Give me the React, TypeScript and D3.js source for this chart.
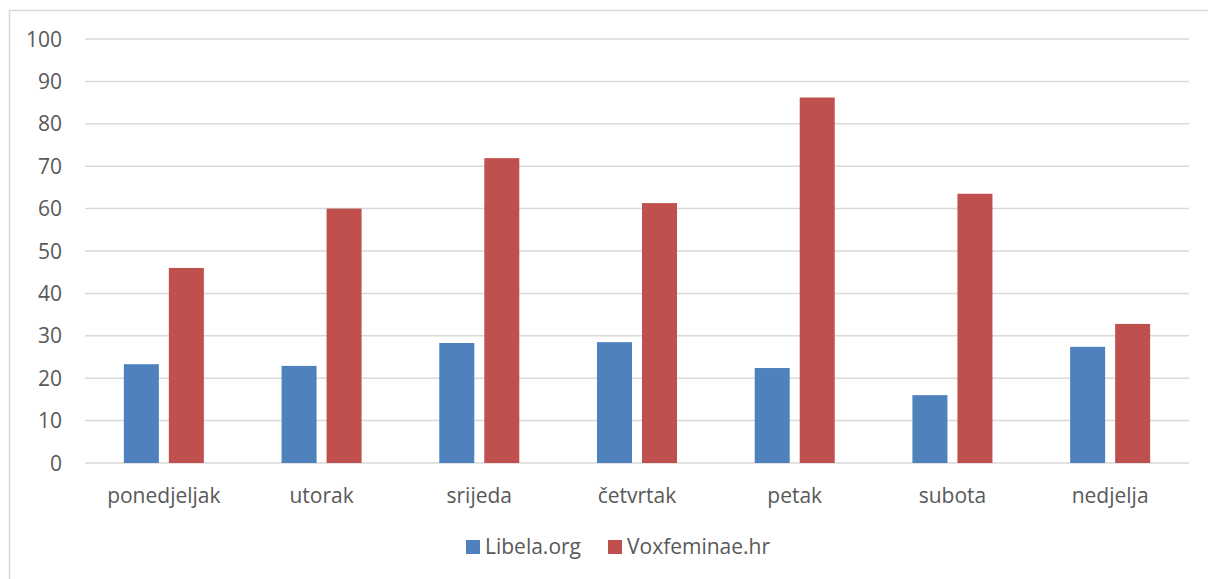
import * as d3 from 'd3';
import { useEffect, useRef } from 'react';

// days of the week (Croatian)
const days = ['ponedjeljak', 'utorak', 'srijeda', 'četvrtak', 'petak', 'subota', 'nedjelja'];
const seriesNames = ['Libela.org', 'Voxfeminae.hr'];
const libela = [23.3, 22.9, 28.3, 28.5, 22.4, 16.0, 27.4];
const voxfeminae = [46.0, 60.0, 71.9, 61.3, 86.2, 63.5, 32.8];
const yTicks = [0, 10, 20, 30, 40, 50, 60, 70, 80, 90, 100];
const colors = ['#4F81BD', '#C0504D'];

const App = () => {
  const ref = useRef<SVGSVGElement>(null);

  useEffect(() => {
    const svg = d3.select(ref.current);
    svg.selectAll('*').remove();

    const width = 1208, height = 579;
    const font = "'Open Sans', sans-serif";
    const textColor = '#595959';

    svg.attr('width', width).attr('height', height);

    // chart frame (runs off the right and bottom edge in the original)
    svg.append('rect')
      .attr('x', 9.5).attr('y', 10.5)
      .attr('width', width + 20).attr('height', height + 20)
      .attr('fill', 'white')
      .attr('stroke', '#d9d9d9')
      .attr('stroke-width', 1.5);

    const x0 = d3.scaleBand<string>().domain(days).range([85, 1189]);
    const y = d3.scaleLinear().domain([0, 100]).range([463, 39]);
    const barW = x0.bandwidth() * 0.222;
    const gap = 10;

    // gridlines
    svg.append('g')
      .selectAll('line')
      .data(yTicks)
      .enter()
      .append('line')
      .attr('x1', 85).attr('x2', 1189)
      .attr('y1', d => y(d)).attr('y2', d => y(d))
      .attr('stroke', '#d9d9d9')
      .attr('stroke-width', 1.5);

    // y tick labels
    svg.append('g')
      .selectAll('text')
      .data(yTicks)
      .enter()
      .append('text')
      .attr('x', 62)
      .attr('y', d => y(d))
      .attr('dy', '0.36em')
      .attr('text-anchor', 'end')
      .style('font-family', font)
      .style('font-size', '21px')
      .attr('fill', textColor)
      .text(d => d);

    // bars
    const series = [libela, voxfeminae];
    series.forEach((vals, si) => {
      svg.append('g')
        .selectAll('rect')
        .data(vals)
        .enter()
        .append('rect')
        .attr('x', (_, i) => {
          const c = (x0(days[i]) ?? 0) + x0.bandwidth() / 2;
          return si === 0 ? c - gap / 2 - barW : c + gap / 2;
        })
        .attr('y', d => y(d))
        .attr('width', barW)
        .attr('height', d => y(0) - y(d))
        .attr('fill', colors[si]);
    });

    // category labels
    svg.append('g')
      .selectAll('text')
      .data(days)
      .enter()
      .append('text')
      .attr('x', d => (x0(d) ?? 0) + x0.bandwidth() / 2)
      .attr('y', 503)
      .attr('text-anchor', 'middle')
      .style('font-family', font)
      .style('font-size', '21px')
      .attr('fill', textColor)
      .text(d => d);

    // legend
    const legendX = [466, 608];
    seriesNames.forEach((name, i) => {
      svg.append('rect')
        .attr('x', legendX[i]).attr('y', 540)
        .attr('width', 14).attr('height', 14)
        .attr('fill', colors[i]);
      svg.append('text')
        .attr('x', legendX[i] + 19)
        .attr('y', 554)
        .style('font-family', font)
        .style('font-size', '21px')
        .attr('fill', textColor)
        .text(name);
    });
  }, []);

  return <svg ref={ref} style={{ position: 'absolute', left: 0, top: 0 }}></svg>;
};

export default App;
